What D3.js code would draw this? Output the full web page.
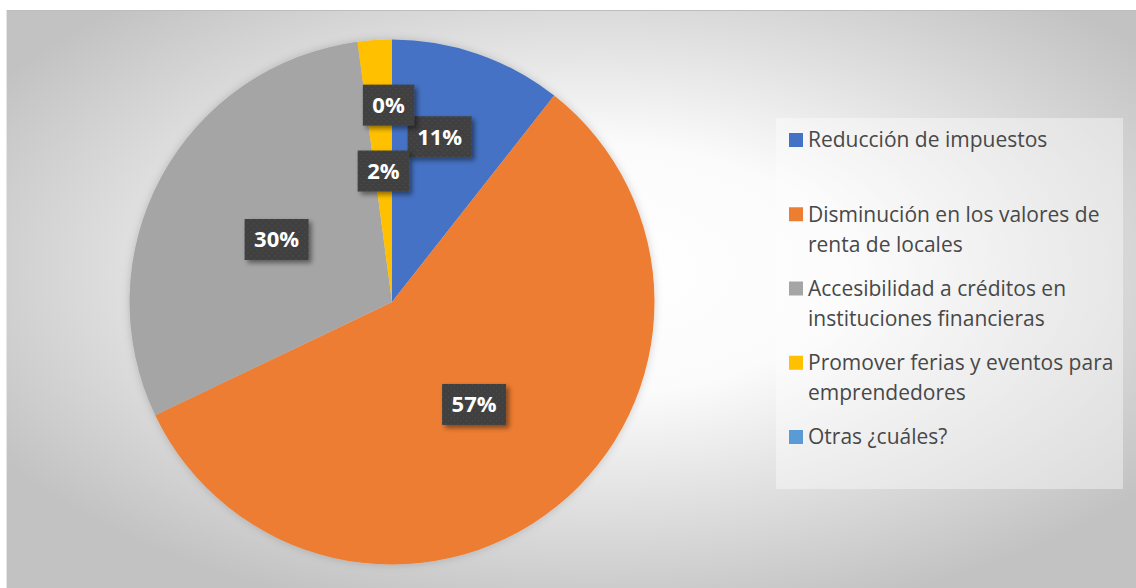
<!DOCTYPE html>
<html>
<head>
<meta charset="utf-8">
<script src="https://cdn.jsdelivr.net/npm/d3@7"></script>
<style>
  html, body { margin: 0; padding: 0; background: #ffffff; }
  svg { display: block; }
</style>
</head>
<body>
<svg id="chart" width="1136" height="588"></svg>
<script>
// ---- data ----
const categories = [
  "Reducción de impuestos",
  "Disminución en los valores de renta de locales",
  "Accesibilidad a créditos en instituciones financieras",
  "Promover ferias y eventos para emprendedores",
  "Otras ¿cuáles?"
];
const values = [10.6, 57.3, 30.0, 2.1, 0.0];
const colors = ["#4472C4", "#ED7D31", "#A5A5A5", "#FFC000", "#5B9BD5"];
// label placement nudges (Excel moved overlapping labels)
const labelRadius = [0.655, 0.5, 0.5, 0.5, 0.75];
const labelAngleShift = [-3, 0, 0, 0, -1];

const svg = d3.select("#chart");
const W = 1136, H = 588;
const defs = svg.append("defs");

// background radial gradient
const bg = defs.append("radialGradient").attr("id", "bgGrad")
  .attr("cx", "0.52").attr("cy", "0.45").attr("r", "0.62");
bg.append("stop").attr("offset", "0").attr("stop-color", "#ffffff");
bg.append("stop").attr("offset", "0.35").attr("stop-color", "#fbfbfb");
bg.append("stop").attr("offset", "1").attr("stop-color", "#c2c2c2");

// dotted pattern for labels
const pat = defs.append("pattern").attr("id", "dots")
  .attr("width", 6).attr("height", 6).attr("patternUnits", "userSpaceOnUse");
pat.append("rect").attr("width", 6).attr("height", 6).attr("fill", "#3f3f3f");
pat.append("circle").attr("cx", 1.5).attr("cy", 1.5).attr("r", 0.8).attr("fill", "#4f4f4f");
pat.append("circle").attr("cx", 4.5).attr("cy", 4.5).attr("r", 0.8).attr("fill", "#4f4f4f");

// shadows
const sh = defs.append("filter").attr("id", "lblShadow")
  .attr("x", "-30%").attr("y", "-30%").attr("width", "160%").attr("height", "170%");
sh.append("feDropShadow").attr("dx", 3).attr("dy", 3).attr("stdDeviation", 2.5)
  .attr("flood-color", "#000").attr("flood-opacity", 0.45);
const psh = defs.append("filter").attr("id", "pieShadow")
  .attr("x", "-10%").attr("y", "-10%").attr("width", "120%").attr("height", "120%");
psh.append("feDropShadow").attr("dx", 0).attr("dy", 0).attr("stdDeviation", 4)
  .attr("flood-color", "#000").attr("flood-opacity", 0.18);

// chart area
svg.append("rect").attr("x", 6).attr("y", 10).attr("width", W - 6).attr("height", H - 10)
  .attr("fill", "url(#bgGrad)");
svg.append("line").attr("x1", 6).attr("x2", W).attr("y1", 10.5).attr("y2", 10.5)
  .attr("stroke", "#bdbdbd").attr("stroke-width", 1);
svg.append("line").attr("x1", 6.5).attr("x2", 6.5).attr("y1", 10).attr("y2", H)
  .attr("stroke", "#e6e6e6").attr("stroke-width", 1);

// pie
const cx = 392, cy = 302, R = 262.5;
const pie = d3.pie().sort(null).value(d => d.v).startAngle(0).endAngle(2 * Math.PI);
const data = categories.map((c, i) => ({ c, v: values[i], col: colors[i], i }));
const arcs = pie(data);
const arc = d3.arc().innerRadius(0).outerRadius(R);

const g = svg.append("g").attr("transform", `translate(${cx},${cy})`);
g.append("g").attr("filter", "url(#pieShadow)")
  .selectAll("path").data(arcs).join("path")
  .attr("d", arc)
  .attr("fill", d => d.data.col);

// labels
const total = d3.sum(values);
const lblG = g.append("g");
arcs.forEach((a, i) => {
  const mid = (a.startAngle + a.endAngle) / 2 + labelAngleShift[i] * Math.PI / 180;
  const r = R * labelRadius[i];
  const x = Math.sin(mid) * r, y = -Math.cos(mid) * r;
  const txt = Math.round(a.data.v / total * 100) + "%";
  const lg = lblG.append("g").attr("transform", `translate(${x},${y})`);
  const rect = lg.append("rect").attr("fill", "url(#dots)").attr("filter", "url(#lblShadow)");
  const t = lg.append("text").text(txt)
    .attr("text-anchor", "middle").attr("dy", "0.36em")
    .attr("font-family", "'Open Sans', Lato, sans-serif")
    .attr("font-weight", "bold").attr("font-size", 22).attr("fill", "#ffffff");
  const w = t.node().getComputedTextLength() + 19, h = 41;
  rect.attr("x", -w / 2).attr("y", -h / 2).attr("width", w).attr("height", h);
});

// legend
const legX = 776, legY = 118, legW = 347, legH = 371;
svg.append("rect").attr("x", legX).attr("y", legY).attr("width", legW).attr("height", legH)
  .attr("fill", "#ffffff").attr("fill-opacity", 0.4);

const itemStart = 140, itemStep = 74.25, lineH = 30, maxW = 318;
const leg = svg.append("g");
data.forEach((d, i) => {
  const yc = itemStart + i * itemStep;
  leg.append("rect").attr("x", 789).attr("y", yc - 7).attr("width", 14).attr("height", 14)
    .attr("fill", d.col);
  const t = leg.append("text").attr("x", 808).attr("y", yc).attr("dy", "0.35em")
    .attr("font-family", "'Open Sans', Lato, sans-serif").attr("font-size", 21)
    .attr("fill", "#484848");
  // word wrap
  const words = d.c.split(" ");
  let line = [], lines = [];
  const probe = t.append("tspan");
  words.forEach(wd => {
    const test = line.concat([wd]).join(" ");
    probe.text(test);
    if (probe.node().getComputedTextLength() > maxW && line.length) {
      lines.push(line.join(" "));
      line = [wd];
    } else line.push(wd);
  });
  lines.push(line.join(" "));
  probe.remove();
  lines.forEach((ln, k) => {
    t.append("tspan").attr("x", 808).attr("y", yc + k * lineH).attr("dy", "0.35em").text(ln);
  });
});
</script>
</body>
</html>
